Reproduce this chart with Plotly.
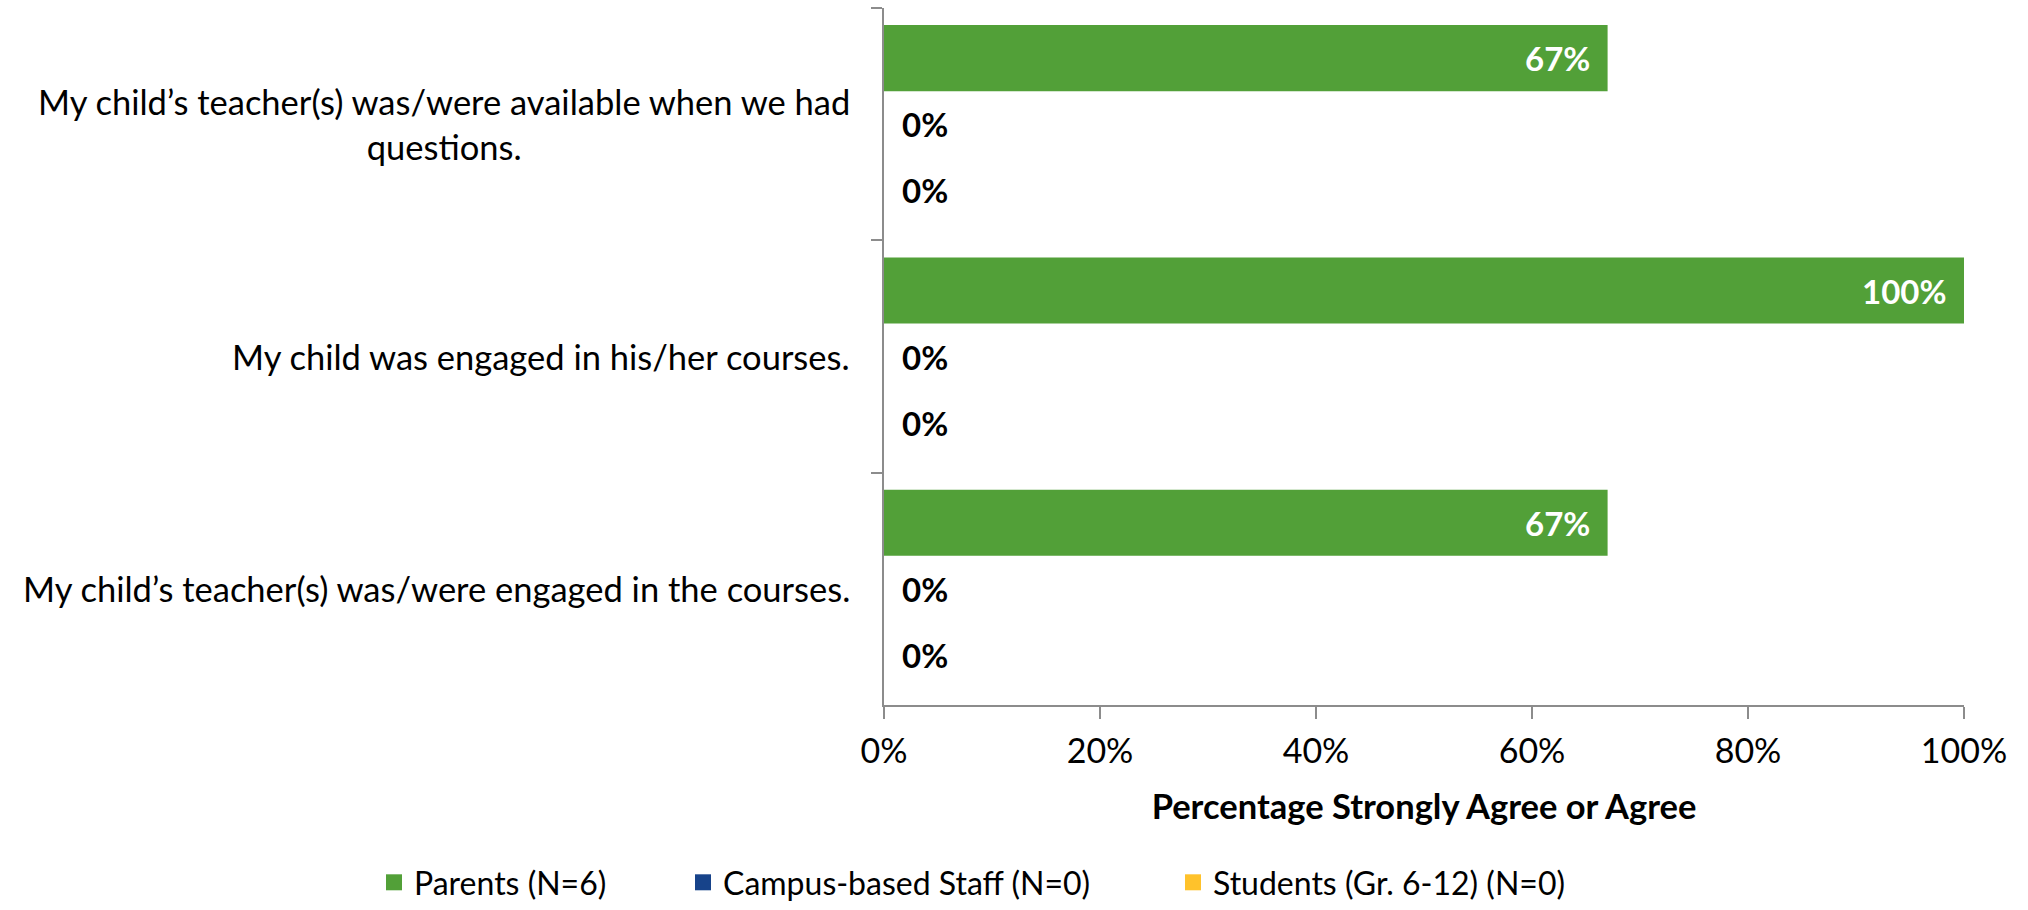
import plotly.graph_objects as go

# Survey items, listed top to bottom
items = [
    "My child’s teacher(s) was/were available when we had questions.",
    "My child was engaged in his/her courses.",
    "My child’s teacher(s) was/were engaged in the courses.",
]
item_labels = [
    "My child’s teacher(s) was/were available when we had<br>questions.",
    "My child was engaged in his/her courses.",
    "My child’s teacher(s) was/were engaged in the courses.",
]

groups = ["Parents (N=6)", "Campus-based Staff (N=0)", "Students (Gr. 6-12) (N=0)"]
parents = [67, 100, 67]
staff = [0, 0, 0]
students = [0, 0, 0]
series = [parents, staff, students]
colors = ["#52A038", "#17438A", "#FFC22B"]

tick_values = [0, 20, 40, 60, 80, 100]
tick_labels = ["0%", "20%", "40%", "60%", "80%", "100%"]

FONT = "Lato"
AXIS_GREY = "#8C8C8C"

fig = go.Figure()
legend_ids = ["legend", "legend2", "legend3"]
for name, vals, col, lg in zip(groups, series, colors, legend_ids):
    fig.add_trace(go.Bar(
        name=name, y=items, x=vals, orientation="h",
        marker=dict(color=col, line=dict(width=0)),
        legendgroup=name, showlegend=False, hoverinfo="x+name",
    ))
    # legend key: a filled square swatch for the series
    fig.add_trace(go.Scatter(
        name=name, x=[None], y=[None], mode="markers",
        marker=dict(symbol="square", size=21, color=col, line=dict(width=0)),
        legendgroup=name, legend=lg, showlegend=True, hoverinfo="skip",
    ))

# Value labels: inside the bar end when the bar has length, otherwise just right of the axis
annotations = []
for gi, vals in enumerate(series):
    for item, v in zip(items, vals):
        inside = v > 0
        annotations.append(dict(
            x=v, y=item, xref="x", yref="y",
            text=f"<b>{v}%</b>", showarrow=False,
            xanchor="right" if inside else "left",
            xshift=-16 if inside else 16,
            yshift=(1 - gi) * 66,
            font=dict(family=FONT, size=33, color="white" if inside else "black"),
        ))

# Category labels, wrapped lines centred on each other
for item, lab in zip(items, item_labels):
    annotations.append(dict(
        x=0, y=item, xref="paper", yref="y", text=lab, showarrow=False,
        xanchor="right", xshift=-32, align="center",
        font=dict(family=FONT, size=34.5, color="black"),
    ))

fig.update_layout(
    width=2028, height=910,
    margin=dict(l=884, r=64, t=8, b=205),
    paper_bgcolor="white", plot_bgcolor="white",
    barmode="group", bargap=0.147, bargroupgap=0,
    showlegend=True,
    font=dict(family=FONT, size=34, color="black"),
    annotations=annotations,
    xaxis=dict(
        range=[0, 100], tickmode="array", tickvals=tick_values, ticktext=tick_labels,
        showgrid=False, zeroline=False, showline=True, linecolor=AXIS_GREY, linewidth=1.5,
        ticks="outside", ticklen=12, tickcolor=AXIS_GREY, tickwidth=1.5,
        ticklabelstandoff=3,
        tickfont=dict(family=FONT, size=34, color="black"),
        title=dict(text="Percentage Strongly Agree or Agree", standoff=26,
                   font=dict(family=FONT, size=34.5, color="black", weight="bold")),
    ),
    yaxis=dict(
        type="category", categoryorder="array", categoryarray=items,
        autorange="reversed", showticklabels=False, showgrid=False,
        showline=True, linecolor=AXIS_GREY, linewidth=1.5,
        ticks="outside", tickson="boundaries", ticklen=11,
        tickcolor=AXIS_GREY, tickwidth=1.5,
    ),
)

leg_common = dict(orientation="h", xref="container", yref="container",
                  yanchor="bottom", y=-0.007, xanchor="left",
                  font=dict(family=FONT, size=32, color="black"),
                  bgcolor="rgba(0,0,0,0)", itemwidth=30, itemsizing="trace",
                  visible=True)
fig.update_layout(
    legend=dict(leg_common, x=374 / 2028),
    legend2=dict(leg_common, x=683 / 2028),
    legend3=dict(leg_common, x=1173 / 2028),
)

fig.write_html("out.html")
